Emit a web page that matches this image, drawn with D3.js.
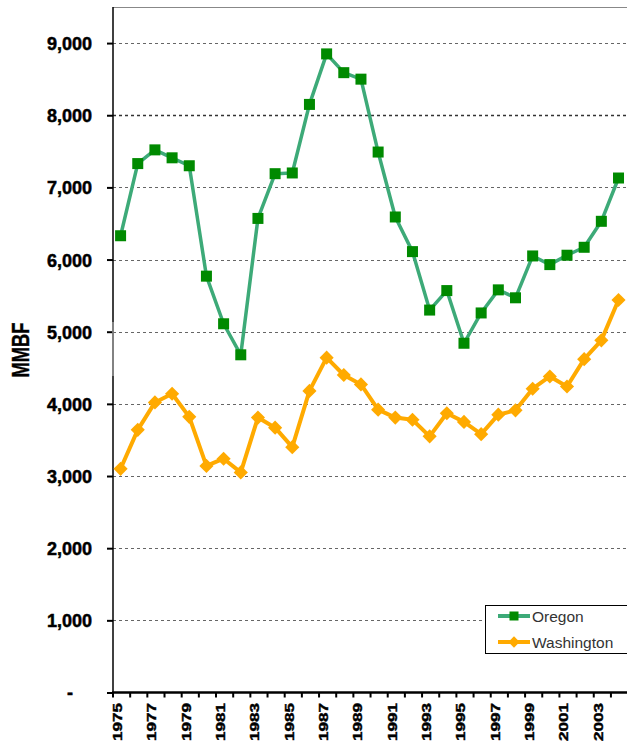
<!DOCTYPE html>
<html><head><meta charset="utf-8">
<script src="https://cdn.jsdelivr.net/npm/d3@7"></script>
<style>
html,body{margin:0;padding:0;background:#fff;overflow:hidden;}
svg{display:block;font-family:Arial,"Liberation Sans",sans-serif;}
</style></head>
<body>
<script>
const years = d3.range(1975, 2005);
const oregon = [6330,7330,7520,7410,7300,5770,5110,4680,6570,7190,7200,8150,8850,8590,8500,7490,6590,6110,5300,5570,4840,5260,5580,5470,6050,5930,6060,6170,6530,7130];
const washington = [3100,3640,4020,4140,3820,3140,3240,3050,3810,3670,3400,4180,4640,4400,4270,3920,3810,3780,3550,3870,3750,3580,3850,3910,4210,4380,4240,4620,4880,5440];
const yTicks = [0,1000,2000,3000,4000,5000,6000,7000,8000,9000];
const xLabelYears = d3.range(1975, 2004, 2);
const seriesNames = ["Oregon","Washington"];

(function(){
const W = 627, H = 742;
const svg = d3.select("body").append("svg").attr("width", W).attr("height", H);

const pLeft = 113, pTop = 7, pBottom = 692.5;
const x = d3.scaleBand().domain(years).range([pLeft, pLeft + 30 * 17.17]).padding(0);
const y = d3.scaleLinear().domain([0, 9500]).range([pBottom, pTop]);

// top border
svg.append("line").attr("x1", pLeft).attr("x2", W).attr("y1", pTop + 0.5).attr("y2", pTop + 0.5)
  .attr("stroke", "#888").attr("stroke-width", 1);

// gridlines
svg.append("g").selectAll("line").data(yTicks.filter(d => d > 0)).join("line")
  .attr("x1", pLeft).attr("x2", W)
  .attr("y1", d => Math.round(y(d)) + 0.5).attr("y2", d => Math.round(y(d)) + 0.5)
  .attr("stroke", d => d === 8000 ? "#333" : "#666").attr("stroke-width", d => d === 8000 ? 1.3 : 1)
  .attr("stroke-dasharray", "3,3");

// y axis
const yAxis = d3.axisLeft(y).tickValues(yTicks).tickSize(6).tickPadding(15)
  .tickFormat(d => d === 0 ? "-" : d3.format(",")(d));
const gy = svg.append("g").attr("transform", `translate(${pLeft},0)`).call(yAxis);
gy.select(".domain").remove();
gy.selectAll(".tick line").attr("stroke", "#000").attr("stroke-width", 2);
gy.selectAll(".tick text").attr("font-size", 18).attr("font-weight", "bold").attr("fill", "#000")
  .attr("stroke", "#000").attr("stroke-width", 0.5)
  .attr("dy", "0.36em")
  .attr("x", d => d === 0 ? -40 : -21);
svg.append("line").attr("x1", pLeft).attr("x2", pLeft).attr("y1", pTop).attr("y2", pBottom)
  .attr("stroke", "#000").attr("stroke-width", 1.5);
svg.append("line").attr("x1", pLeft).attr("x2", pLeft).attr("y1", 322).attr("y2", 376)
  .attr("stroke", "#999").attr("stroke-width", 1.5);

// y title
svg.append("text").attr("transform", "translate(29,350) rotate(-90)")
  .attr("text-anchor", "middle").attr("font-size", 24).attr("font-weight", "bold")
  .attr("stroke", "#000").attr("stroke-width", 0.4)
  .attr("textLength", 55).attr("lengthAdjust", "spacingAndGlyphs").text("MMBF");

// x axis
const gx = svg.append("g").attr("transform", `translate(0,${pBottom})`);
gx.append("line").attr("x1", pLeft - 1).attr("x2", W).attr("y1", 0).attr("y2", 0)
  .attr("stroke", "#000").attr("stroke-width", 2.5);
gx.selectAll("line.tk").data(years).join("line").attr("class", "tk")
  .attr("x1", d => x(d)).attr("x2", d => x(d)).attr("y1", 0).attr("y2", 5)
  .attr("stroke", "#000").attr("stroke-width", 2);
gx.selectAll("text").data(xLabelYears).join("text")
  .attr("transform", d => `translate(${x(d) + x.bandwidth() / 2 - 4},${703 - pBottom}) rotate(-90)`)
  .attr("text-anchor", "end").attr("dy", "0.36em")
  .attr("font-size", 12).attr("font-weight", "bold")
  .attr("stroke", "#000").attr("stroke-width", 0.4)
  .attr("textLength", 38).attr("lengthAdjust", "spacingAndGlyphs")
  .text(d => d);

const cx = d => x(d) + x.bandwidth() / 2 - 1;
const line = d3.line().x((d, i) => cx(years[i])).y(d => y(d));

// Washington
svg.append("path").datum(washington).attr("d", line).attr("fill", "none")
  .attr("stroke", "#FFAA00").attr("stroke-width", 4).attr("stroke-linejoin", "round");
svg.append("g").selectAll("path").data(washington).join("path")
  .attr("transform", (d, i) => `translate(${cx(years[i])},${y(d)}) rotate(45)`)
  .attr("d", "M-5,-5H5V5H-5Z").attr("fill", "#FFAA00");

// Oregon
svg.append("path").datum(oregon).attr("d", line).attr("fill", "none")
  .attr("stroke", "#3DAA78").attr("stroke-width", 3.5).attr("stroke-linejoin", "round");
svg.append("g").selectAll("rect").data(oregon).join("rect")
  .attr("x", (d, i) => cx(years[i]) - 5.5).attr("y", d => y(d) - 5.5)
  .attr("width", 11).attr("height", 11).attr("fill", "#008A00");

// legend
const lg = svg.append("g");
lg.append("rect").attr("x", 485.5).attr("y", 605.5).attr("width", 160).attr("height", 48)
  .attr("fill", "#fff").attr("stroke", "#000").attr("stroke-width", 1);
const ly = [616, 642];
const lcol = ["#3DAA78", "#FFAA00"];
seriesNames.forEach((n, i) => {
  lg.append("line").attr("x1", 498).attr("x2", 530).attr("y1", ly[i]).attr("y2", ly[i])
    .attr("stroke", lcol[i]).attr("stroke-width", 4);
  if (i === 0) {
    lg.append("rect").attr("x", 509.5).attr("y", ly[i] - 4.5).attr("width", 9).attr("height", 9).attr("fill", "#008A00");
  } else {
    lg.append("path").attr("transform", `translate(514,${ly[i]}) rotate(45)`).attr("d", "M-4,-4H4V4H-4Z").attr("fill", "#FFAA00");
  }
  lg.append("text").attr("x", 532).attr("y", ly[i] + 5.5).attr("font-size", 15.5).attr("fill", "#333").text(n);
});
})();
</script>
</body></html>
